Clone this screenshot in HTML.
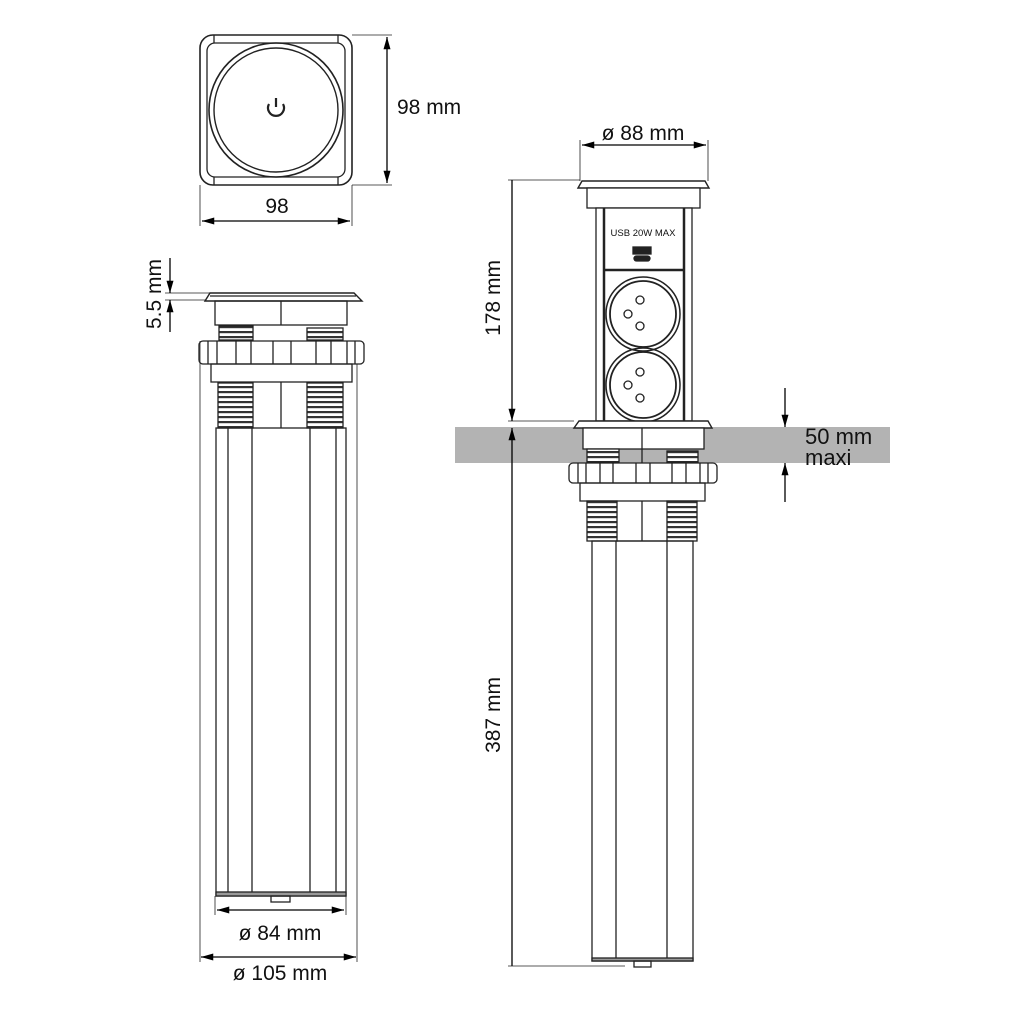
<!DOCTYPE html>
<html><head><meta charset="utf-8"><style>html,body{margin:0;padding:0;background:#fff}svg{display:block}</style></head>
<body>
<svg width="1024" height="1024" viewBox="0 0 1024 1024" xmlns="http://www.w3.org/2000/svg" font-family="Liberation Sans, sans-serif">
<defs>
<pattern id="thr" width="10" height="5" patternUnits="userSpaceOnUse">
<rect width="10" height="5" fill="#fff"/><rect y="1" width="10" height="2.2" fill="#333"/>
</pattern>
<marker id="a" viewBox="0 0 14 8" refX="14" refY="4" markerWidth="14" markerHeight="7" orient="auto-start-reverse" markerUnits="userSpaceOnUse"><path d="M0,0 L14,4 L0,8 z" fill="#000"/></marker>
</defs>
<g fill="none" stroke="#222" stroke-width="1.3">
<!-- TOP VIEW -->
<rect x="200" y="35" width="152" height="150" rx="13" stroke-width="1.6"/>
<rect x="207" y="43" width="138" height="134" rx="8"/>
<line x1="214" y1="35" x2="214" y2="43"/><line x1="338" y1="35" x2="338" y2="43"/>
<line x1="214" y1="177" x2="214" y2="185"/><line x1="338" y1="177" x2="338" y2="185"/>
<circle cx="276" cy="110" r="67" stroke-width="1.6"/>
<circle cx="276" cy="110" r="62" stroke-width="1.4"/>
<path d="M269,104 a8,8 0 1 0 14,0" stroke-width="2.2"/><line x1="276" y1="98" x2="276" y2="107" stroke-width="2.2"/>
<line x1="352" y1="35" x2="392" y2="35" stroke-width="0.8"/><line x1="352" y1="185" x2="392" y2="185" stroke-width="0.8"/>
<line x1="387" y1="37" x2="387" y2="183" stroke="#000" marker-start="url(#a)" marker-end="url(#a)"/>
<line x1="200" y1="185" x2="200" y2="226" stroke-width="0.8"/><line x1="352" y1="185" x2="352" y2="226" stroke-width="0.8"/>
<line x1="202" y1="221" x2="350" y2="221" stroke="#000" marker-start="url(#a)" marker-end="url(#a)"/>

<!-- LEFT COLUMN -->
<path d="M205,301 L210,293 L354,293 L362,301 Z" stroke-width="1.4"/>
<line x1="210" y1="296" x2="356" y2="296"/>
<rect x="215" y="301" width="132" height="24"/><line x1="281" y1="301" x2="281" y2="325"/>
<rect x="219" y="326" width="34" height="14" fill="url(#thr)"/><rect x="307" y="328" width="36" height="12" fill="url(#thr)"/>
<rect x="199" y="341" width="165" height="23" rx="4"/>
<path d="M208,341v23M217,341v23M236,341v23M251,341v23M273,341v23M291,341v23M316,341v23M331,341v23M347,341v23M355,341v23"/>
<rect x="211" y="364" width="141" height="18"/>
<rect x="218" y="383" width="35" height="45" fill="url(#thr)"/><rect x="307" y="383" width="36" height="45" fill="url(#thr)"/>
<line x1="281" y1="382" x2="281" y2="428"/>
<rect x="216" y="428" width="130" height="468"/>
<line x1="228" y1="428" x2="228" y2="896"/><line x1="252" y1="428" x2="252" y2="896"/><line x1="310" y1="428" x2="310" y2="896"/><line x1="336" y1="428" x2="336" y2="896"/>
<rect x="216" y="892" width="130" height="4" fill="#999"/>
<rect x="271" y="896" width="19" height="6"/>
<line x1="200" y1="341" x2="200" y2="962" stroke-width="0.8"/><line x1="357" y1="364" x2="357" y2="962" stroke-width="0.8"/>
<line x1="215" y1="896" x2="215" y2="915" stroke-width="0.8"/><line x1="346" y1="896" x2="346" y2="915" stroke-width="0.8"/>
<line x1="217" y1="910" x2="344" y2="910" stroke="#000" marker-start="url(#a)" marker-end="url(#a)"/>
<line x1="201" y1="957" x2="356" y2="957" stroke="#000" marker-start="url(#a)" marker-end="url(#a)"/>
<!-- 5.5 -->
<line x1="165" y1="293" x2="210" y2="293" stroke-width="0.8"/><line x1="165" y1="300" x2="205" y2="300" stroke-width="0.8"/>
<line x1="170" y1="258" x2="170" y2="293" stroke="#000" marker-end="url(#a)"/>
<line x1="170" y1="332" x2="170" y2="300" stroke="#000" marker-end="url(#a)"/>

<!-- RIGHT COLUMN -->
<rect x="455" y="427" width="435" height="36" fill="#b3b3b3" stroke="none"/>
<path d="M578,188 L582,181 L705,181 L709,188 Z" stroke-width="1.4"/>
<rect x="587" y="188" width="113" height="20" fill="#fff"/>
<rect x="596" y="208" width="96" height="213" fill="#fff"/>
<line x1="604" y1="208" x2="604" y2="421" stroke-width="2.5"/><line x1="684" y1="208" x2="684" y2="421" stroke-width="2.5"/>
<line x1="604" y1="270" x2="684" y2="270" stroke-width="2.5"/>
<rect x="633" y="247" width="18" height="7" fill="#222"/><rect x="634" y="256" width="16" height="5" rx="2.5" fill="#222"/>
<circle cx="643" cy="314" r="37" stroke-width="1.5"/><circle cx="643" cy="314" r="33" stroke-width="1.8"/>
<circle cx="640" cy="300" r="4"/><circle cx="628" cy="314" r="4"/><circle cx="640" cy="326" r="4"/>
<circle cx="643" cy="385" r="37" stroke-width="1.5"/><circle cx="643" cy="385" r="33" stroke-width="1.8"/>
<circle cx="640" cy="372" r="4"/><circle cx="628" cy="385" r="4"/><circle cx="640" cy="398" r="4"/>
<path d="M574,428 L579,421 L708,421 L712,428 Z" fill="#fff" stroke-width="1.4"/>
<rect x="583" y="428" width="121" height="21" fill="#fff"/><line x1="642" y1="428" x2="642" y2="483"/>
<rect x="587" y="449" width="32" height="13" fill="url(#thr)"/><rect x="667" y="451" width="31" height="11" fill="url(#thr)"/>
<rect x="569" y="463" width="148" height="20" rx="4" fill="#fff"/>
<path d="M578,463v20M586,463v20M600,463v20M613,463v20M636,463v20M650,463v20M672,463v20M686,463v20M700,463v20M708,463v20"/>
<rect x="580" y="483" width="125" height="18"/>
<rect x="587" y="501" width="30" height="40" fill="url(#thr)"/><rect x="667" y="501" width="30" height="40" fill="url(#thr)"/>
<line x1="642" y1="501" x2="642" y2="541"/><line x1="617" y1="541" x2="667" y2="541"/>
<rect x="592" y="541" width="101" height="420"/>
<line x1="616" y1="541" x2="616" y2="961"/><line x1="667" y1="541" x2="667" y2="961"/>
<rect x="592" y="958" width="101" height="3" fill="#999"/>
<rect x="634" y="961" width="17" height="6"/>
<!-- dims -->
<line x1="580" y1="140" x2="580" y2="181" stroke-width="0.8"/><line x1="708" y1="140" x2="708" y2="181" stroke-width="0.8"/>
<line x1="582" y1="145" x2="706" y2="145" stroke="#000" marker-start="url(#a)" marker-end="url(#a)"/>
<line x1="508" y1="180" x2="580" y2="180" stroke-width="0.8"/>
<line x1="508" y1="421" x2="574" y2="421" stroke-width="0.8"/>
<line x1="512" y1="182" x2="512" y2="421" stroke="#000" marker-end="url(#a)"/>
<line x1="512" y1="180" x2="512" y2="182" stroke="#000"/>
<line x1="512" y1="966" x2="512" y2="428" stroke="#000" marker-end="url(#a)"/>
<line x1="508" y1="966" x2="625" y2="966" stroke-width="0.8"/>
<line x1="785" y1="388" x2="785" y2="427" stroke="#000" marker-end="url(#a)"/>
<line x1="785" y1="502" x2="785" y2="463" stroke="#000" marker-end="url(#a)"/>
</g>
<g fill="#111" font-size="21">
<text x="397" y="114">98 mm</text>
<text x="277" y="213" text-anchor="middle">98</text>
<text x="280" y="940" text-anchor="middle">ø 84 mm</text>
<text x="280" y="980" text-anchor="middle">ø 105 mm</text>
<text transform="translate(161,294) rotate(-90)" text-anchor="middle">5.5 mm</text>
<text x="643" y="140" text-anchor="middle">ø 88 mm</text>
<text transform="translate(500,298) rotate(-90)" text-anchor="middle">178 mm</text>
<text transform="translate(500,715) rotate(-90)" text-anchor="middle">387 mm</text>
<text x="805" y="444" font-size="22">50 mm</text>
<text x="805" y="465" font-size="22">maxi</text>
<text x="643" y="236" text-anchor="middle" font-size="9.5">USB 20W MAX</text>
</g>
</svg>
</body></html>
